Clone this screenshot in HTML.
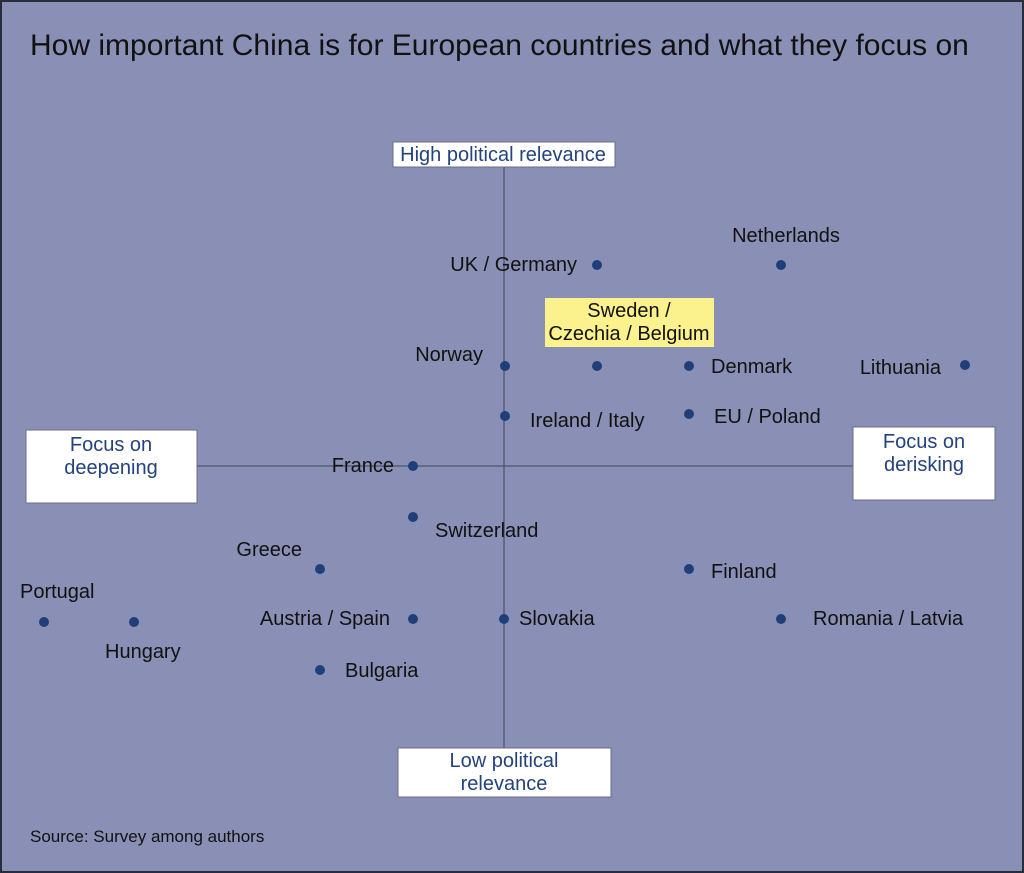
<!DOCTYPE html>
<html><head><style>
html,body{margin:0;padding:0;}
body{width:1024px;height:873px;overflow:hidden;background:#8a8fb5;}
svg{display:block;}
text{font-family:"Liberation Sans",sans-serif;font-size:20px;fill:#111;}
.b{fill:#24427e;}
</style></head><body>
<svg width="1024" height="873" viewBox="0 0 1024 873">
<rect x="1" y="1" width="1022" height="871" fill="#8a8fb5" stroke="#2a2c3c" stroke-width="2"/>
<text x="30" y="55" style="font-size:30px" fill="#000">How important China is for European countries and what they focus on</text>
<line x1="504" y1="167" x2="504" y2="748" stroke="#50546e" stroke-width="1.3"/>
<line x1="197" y1="466" x2="853" y2="466" stroke="#50546e" stroke-width="1.3"/>
<rect x="393" y="142" width="222" height="25" fill="#fff" stroke="#6a6e88"/>
<text class="b" x="503" y="161" text-anchor="middle">High political relevance</text>
<rect x="398" y="748" width="213" height="49" fill="#fff" stroke="#6a6e88"/>
<text class="b" x="504" y="767" text-anchor="middle">Low political</text>
<text class="b" x="504" y="790" text-anchor="middle">relevance</text>
<rect x="26" y="430" width="171" height="73" fill="#fff" stroke="#6a6e88"/>
<text class="b" x="111" y="451" text-anchor="middle">Focus on</text>
<text class="b" x="111" y="474" text-anchor="middle">deepening</text>
<rect x="853" y="427" width="142" height="73" fill="#fff" stroke="#6a6e88"/>
<text class="b" x="924" y="448" text-anchor="middle">Focus on</text>
<text class="b" x="924" y="471" text-anchor="middle">derisking</text>
<rect x="545" y="298" width="169" height="49" fill="#fbf28e"/>
<text x="629" y="317" text-anchor="middle">Sweden / </text>
<text x="629" y="340" text-anchor="middle">Czechia / Belgium</text>
<g fill="#1f3f7a">
<circle cx="597" cy="265" r="5"/><circle cx="781" cy="265" r="5"/>
<circle cx="505" cy="366" r="5"/><circle cx="597" cy="366" r="5"/><circle cx="689" cy="366" r="5"/><circle cx="965" cy="365" r="5"/>
<circle cx="505" cy="416" r="5"/><circle cx="689" cy="414" r="5"/>
<circle cx="413" cy="466" r="5"/><circle cx="413" cy="517" r="5"/>
<circle cx="320" cy="569" r="5"/><circle cx="689" cy="569" r="5"/>
<circle cx="44" cy="622" r="5"/><circle cx="134" cy="622" r="5"/>
<circle cx="413" cy="619" r="5"/><circle cx="504" cy="619" r="5"/><circle cx="781" cy="619" r="5"/>
<circle cx="320" cy="670" r="5"/>
</g>
<text x="577" y="271" text-anchor="end">UK / Germany</text>
<text x="786" y="242" text-anchor="middle">Netherlands</text>
<text x="483" y="361" text-anchor="end">Norway</text>
<text x="711" y="373">Denmark</text>
<text x="941" y="374" text-anchor="end">Lithuania</text>
<text x="530" y="427">Ireland / Italy</text>
<text x="714" y="423">EU / Poland</text>
<text x="394" y="472" text-anchor="end">France</text>
<text x="435" y="537">Switzerland</text>
<text x="302" y="556" text-anchor="end">Greece</text>
<text x="711" y="578">Finland</text>
<text x="20" y="598">Portugal</text>
<text x="105" y="658">Hungary</text>
<text x="390" y="625" text-anchor="end">Austria / Spain</text>
<text x="519" y="625">Slovakia</text>
<text x="813" y="625">Romania / Latvia</text>
<text x="345" y="677">Bulgaria</text>
<text x="30" y="842" style="font-size:17px">Source: Survey among authors</text>
</svg>
</body></html>
